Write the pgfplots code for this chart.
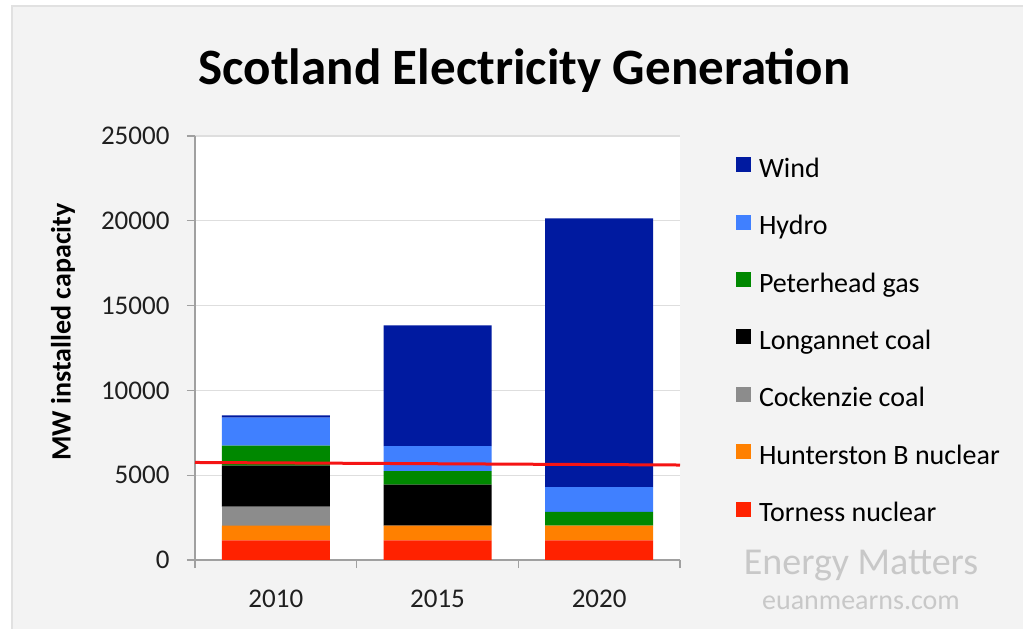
\documentclass[border=0pt]{standalone}
\usepackage{pgfplots}
\pgfplotsset{compat=1.18}
\usepackage{fontspec}
\setmainfont{Carlito}

\definecolor{windc}{RGB}{0,26,160}
\definecolor{hydroc}{RGB}{64,128,255}
\definecolor{gasc}{RGB}{0,136,0}
\definecolor{longc}{RGB}{0,0,0}
\definecolor{cockc}{RGB}{140,140,140}
\definecolor{hunterc}{RGB}{255,128,0}
\definecolor{tornc}{RGB}{255,34,0}
\definecolor{panel}{RGB}{243,243,243}
\definecolor{panelborder}{RGB}{225,225,225}
\definecolor{axisgray}{RGB}{160,160,160}
\definecolor{gridgray}{RGB}{222,222,222}
\definecolor{limitred}{RGB}{245,20,20}
\definecolor{markgray}{RGB}{200,200,200}

\begin{document}
\begin{tikzpicture}[x=1pt,y=1pt]
\useasboundingbox (0pt,0pt) rectangle (1023pt,629pt);
\fill[white] (0pt,0pt) rectangle (1023pt,629pt);
\fill[panel] (12pt,0pt) rectangle (1023pt,623pt);
\draw[panelborder, line width=1.5pt] (12pt,0pt) -- (12pt,623pt) -- (1023pt,623pt);

\node[font=\bfseries\fontsize{51}{60}\selectfont, anchor=base] at (524.5pt,544pt) {Scotland Electricity Generation};

\begin{axis}[
  at={(195pt,69pt)}, anchor=south west,
  scale only axis, width=485pt, height=424pt,
  ybar stacked, bar width=108pt,
  xmin=-0.5, xmax=2.5, ymin=0, ymax=25000,
  xtick={-0.5,0.5,1.5,2.5}, xticklabels={2010,2015,2020},
  x tick label as interval,
  ytick={0,5000,...,25000},
  scaled y ticks=false,
  axis x line=bottom, axis y line=left,
  axis line style={-, draw=axisgray, line width=1.3pt},
  tick align=outside, major tick length=8pt,
  tick style={draw=axisgray, line width=1.3pt},
  ymajorgrids, grid style={draw=gridgray, line width=1.2pt},
  axis background/.style={fill=white},
  /pgf/number format/assume math mode=true,
  /pgf/number format/1000 sep={},
  tick label style={font=\fontsize{27}{32}\selectfont, text=black!88},
  yticklabel style={xshift=-14pt},
  xticklabel style={yshift=-18pt},
  ylabel={MW installed capacity},
  ylabel style={font=\bfseries\fontsize{28}{32}\selectfont, at={(axis description cs:-0.272,0.538)}, anchor=center, rotate=0},
  reverse legend,
  legend cell align=left,
  legend image code/.code={\fill[#1] (0pt,-2pt) rectangle (15pt,13pt);},
  legend style={at={(axis description cs:1.1155,0.95)}, anchor=north west,
    draw=none, fill=none, inner sep=0pt, outer sep=0pt,
    font=\fontsize{28}{32}\selectfont, row sep=31.4pt, column sep=8pt,
    nodes={inner sep=0pt, outer sep=0pt, text height=20pt, text depth=6pt}},
]
\addplot[fill=tornc, draw=none] coordinates {(0,1150) (1,1150) (2,1150)};
\addplot[fill=hunterc, draw=none] coordinates {(0,880) (1,880) (2,880)};
\addplot[fill=cockc, draw=none] coordinates {(0,1120) (1,0) (2,0)};
\addplot[fill=longc, draw=none] coordinates {(0,2420) (1,2420) (2,0)};
\addplot[fill=gasc, draw=none] coordinates {(0,1180) (1,790) (2,810)};
\addplot[fill=hydroc, draw=none] coordinates {(0,1650) (1,1476) (2,1456)};
\addplot[fill=windc, draw=none] coordinates {(0,130) (1,7120) (2,15840)};
\legend{Torness nuclear, Hunterston B nuclear, Cockenzie coal, Longannet coal, Peterhead gas, Hydro, Wind}
\end{axis}

% level line drawn over the stacked bars
\begin{axis}[
  at={(195pt,69pt)}, anchor=south west,
  scale only axis, width=485pt, height=424pt,
  xmin=-0.5, xmax=2.5, ymin=0, ymax=25000,
  hide axis, clip=false,
]
\addplot[limitred, line width=3pt] coordinates {(-0.5,5750) (2.5,5600)};
\end{axis}

\node[font=\fontsize{38}{44}\selectfont, text=markgray, anchor=base] at (861pt,54pt) {Energy Matters};
\node[font=\fontsize{28}{32}\selectfont, text=markgray, anchor=base] at (861pt,19pt) {euanmearns.com};
\end{tikzpicture}
\end{document}
